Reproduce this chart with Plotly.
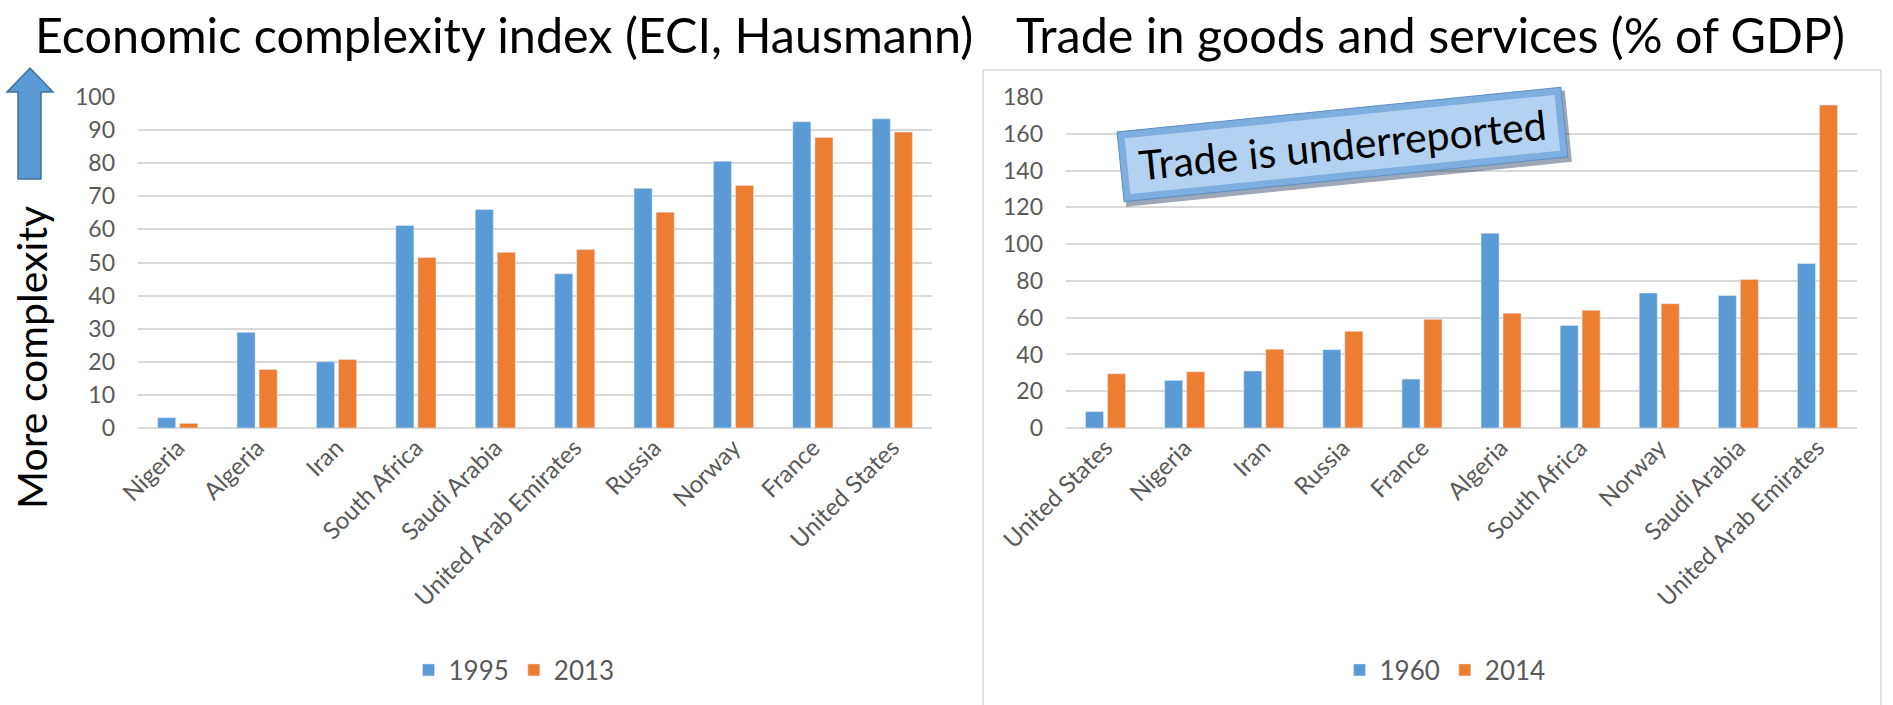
import plotly.graph_objects as go

W, H = 1893, 705

eci_countries = ["Nigeria", "Algeria", "Iran", "South Africa", "Saudi Arabia",
                 "United Arab Emirates", "Russia", "Norway", "France", "United States"]
eci_1995 = [3.1, 28.9, 20.0, 61.2, 66.0, 46.6, 72.4, 80.6, 92.5, 93.4]
eci_2013 = [1.4, 17.7, 20.7, 51.5, 53.1, 53.9, 65.2, 73.3, 87.8, 89.4]

trade_countries = ["United States", "Nigeria", "Iran", "Russia", "France", "Algeria",
                   "South Africa", "Norway", "Saudi Arabia", "United Arab Emirates"]
trade_1960 = [8.9, 25.9, 31.0, 42.6, 26.6, 105.9, 55.8, 73.4, 72.1, 89.5]
trade_2014 = [29.5, 30.6, 42.8, 52.6, 59.1, 62.4, 64.0, 67.6, 80.7, 175.6]

eci_ticks = list(range(0, 101, 10))
trade_ticks = list(range(0, 181, 20))

BLUE = "#5b9bd5"
ORANGE = "#ed7d31"
GRID = "#d9d9d9"
TICK = "#595959"
FONT = "Lato"


def px(x):
    return x / W


def py(y):
    return 1 - y / H


fig = go.Figure()
fig.add_trace(go.Bar(x=eci_countries, y=eci_1995, name="1995", marker_color=BLUE,
                     xaxis="x", yaxis="y", legend="legend"))
fig.add_trace(go.Bar(x=eci_countries, y=eci_2013, name="2013", marker_color=ORANGE,
                     xaxis="x", yaxis="y", legend="legend"))
fig.add_trace(go.Bar(x=trade_countries, y=trade_1960, name="1960", marker_color=BLUE,
                     xaxis="x2", yaxis="y2", legend="legend2"))
fig.add_trace(go.Bar(x=trade_countries, y=trade_2014, name="2014", marker_color=ORANGE,
                     xaxis="x2", yaxis="y2", legend="legend2"))

ydom = [py(428), py(97)]
xcommon = dict(tickfont=dict(family=FONT, size=24, color=TICK), showline=False,
               automargin=False, tickangle=-45, showgrid=False, zeroline=False, ticks="")
ycommon = dict(tickfont=dict(family=FONT, size=23, color=TICK), showline=False,
               automargin=False, showgrid=True, gridcolor=GRID, gridwidth=1.5,
               zeroline=True, zerolinecolor=GRID, zerolinewidth=2, ticks="",
               ticklabelstandoff=22)
fig.update_layout(
    width=W, height=H,
    margin=dict(l=0, r=0, t=0, b=0, pad=0, autoexpand=False),
    paper_bgcolor="white", plot_bgcolor="white",
    bargap=0.444, bargroupgap=0.18,
    font=dict(family=FONT, color=TICK),
    xaxis=dict(domain=[px(138), px(932)], anchor="y", **xcommon),
    yaxis=dict(domain=ydom, anchor="x", range=[0, 100], tickvals=eci_ticks, **ycommon),
    xaxis2=dict(domain=[px(1066), px(1857)], anchor="y2", **xcommon),
    yaxis2=dict(domain=ydom, anchor="x2", range=[0, 180], tickvals=trade_ticks, **ycommon),
    legend=dict(orientation="h", x=px(514), xanchor="center", y=py(670), yanchor="middle",
                font=dict(family=FONT, size=26, color=TICK), bgcolor="rgba(0,0,0,0)"),
    legend2=dict(orientation="h", x=px(1445), xanchor="center", y=py(670), yanchor="middle",
                 font=dict(family=FONT, size=26, color=TICK), bgcolor="rgba(0,0,0,0)"),
    showlegend=True,
)

# Right chart frame
fig.add_shape(type="rect", xref="paper", yref="paper",
              x0=px(983), x1=px(1881), y0=py(720), y1=py(70),
              line=dict(color=GRID, width=1.5), fillcolor="rgba(0,0,0,0)", layer="below")

# Titles
fig.add_annotation(text="Economic complexity index (ECI, Hausmann)", xref="paper", yref="paper",
                   x=px(504), y=py(34), xanchor="center", yanchor="middle", showarrow=False,
                   font=dict(family=FONT, size=48.5, color="black"))
fig.add_annotation(text="Trade in goods and services (% of GDP)", xref="paper", yref="paper",
                   x=px(1430), y=py(34), xanchor="center", yanchor="middle", showarrow=False,
                   font=dict(family=FONT, size=48.5, color="black"))

# Y-axis title
fig.add_annotation(text="More complexity", xref="paper", yref="paper",
                   x=px(32), y=py(358), xanchor="center", yanchor="middle",
                   showarrow=False, textangle=-90,
                   font=dict(family=FONT, size=41, color="black"))

# Up arrow
pts = [(18, 179), (41, 179), (41, 92), (53, 92), (30, 68), (7, 92), (18, 92)]
path = "M " + " L ".join(f"{px(x)},{py(y)}" for x, y in pts) + " Z"
fig.add_shape(type="path", xref="paper", yref="paper", path=path,
              fillcolor=BLUE, line=dict(color="#41719c", width=1.5))

# "Trade is underreported" bevel box
cx, cy, ang = px(1342), py(145), -5.75
box = dict(xref="paper", yref="paper", x=cx, y=cy, xanchor="center", yanchor="middle",
           showarrow=False, textangle=ang, borderpad=0)
fig.add_annotation(text="", xshift=3, yshift=-4, width=447, height=71,
                   bgcolor="rgba(40,60,90,0.45)", **box)
fig.add_annotation(text="", width=445, height=69, bgcolor="#7eaddf",
                   bordercolor="#5b8fc7", borderwidth=1, **box)
fig.add_annotation(text="Trade is underreported", width=431, height=55, bgcolor="#b3d2f2",
                   font=dict(family=FONT, size=41, color="black"), **box)

fig.write_html("out.html", config={"displayModeBar": False},
               post_script="document.body.style.margin='0';")
